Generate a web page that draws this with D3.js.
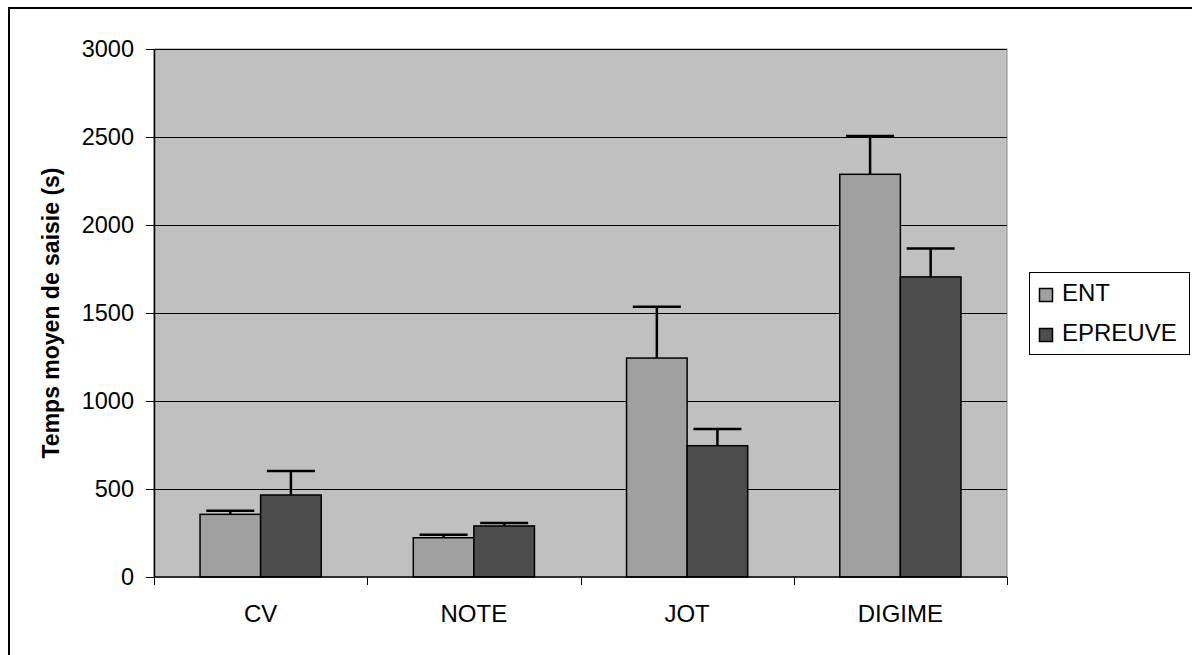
<!DOCTYPE html>
<html>
<head>
<meta charset="utf-8">
<script src="https://cdn.jsdelivr.net/npm/d3@7"></script>
<style>
  body { margin: 0; background: #fff; }
  svg { display: block; font-family: "Liberation Sans", Arial, sans-serif; }
</style>
</head>
<body>
<svg id="chart" width="1192" height="655"></svg>
<script>
// data
const categories = ['CV', 'NOTE', 'JOT', 'DIGIME']
const seriesNames = ['ENT', 'EPREUVE']
const entValues = [356, 223, 1244, 2288]
const entErrors = [21, 17, 292, 217]
const epreuveValues = [466, 290, 746, 1705]
const epreuveErrors = [136, 17, 95, 161]
const yTicks = [0, 500, 1000, 1500, 2000, 2500, 3000]

const colors = {ENT: '#a0a0a0', EPREUVE: '#4d4d4d'}

const series = [
	{name: 'ENT', values: entValues, errors: entErrors},
	{name: 'EPREUVE', values: epreuveValues, errors: epreuveErrors}
]

const svg = d3.select('#chart')
const plot = {left: 154, top: 49, right: 1007, bottom: 577}

// outer frame (only top and left edges fall inside the picture)
svg.append('rect')
	.attr('x', 9).attr('y', 8)
	.attr('width', 1300).attr('height', 800)
	.style('fill', 'none')
	.style('stroke', '#000')
	.style('stroke-width', 2)

const x = d3.scaleBand()
	.domain(categories)
	.range([plot.left, plot.right])

const inner = d3.scaleBand()
	.domain(seriesNames)
	.range([0, x.bandwidth()])
	.paddingOuter(0.76)

const y = d3.scaleLinear()
	.domain([0, 3000])
	.range([plot.bottom, plot.top])

// plot background
svg.append('rect')
	.attr('x', plot.left).attr('y', plot.top)
	.attr('width', plot.right - plot.left)
	.attr('height', plot.bottom - plot.top)
	.style('fill', '#c0c0c0')
	.style('stroke', '#8a8a8a')
	.style('stroke-width', 1)

// gridlines
svg.append('g')
	.selectAll('line')
	.data(yTicks.filter(t => t > 0))
	.enter()
	.append('line')
	.attr('x1', plot.left).attr('x2', plot.right)
	.attr('y1', d => Math.round(y(d)) + 0.5)
	.attr('y2', d => Math.round(y(d)) + 0.5)
	.style('stroke', '#000')
	.style('stroke-width', 1)

// bars
const groups = svg.append('g')
	.selectAll('g')
	.data(series)
	.enter()
	.append('g')

groups.selectAll('rect')
	.data(s => s.values.map((v, i) => ({name: s.name, cat: categories[i], v})))
	.enter()
	.append('rect')
	.attr('x', d => x(d.cat) + inner(d.name))
	.attr('y', d => y(d.v))
	.attr('width', inner.bandwidth())
	.attr('height', d => y(0) - y(d.v))
	.style('fill', d => colors[d.name])
	.style('stroke', '#000')
	.style('stroke-width', 1.5)

// error bars (upper half only)
const errs = []
series.forEach(s => s.values.forEach((v, i) => errs.push({
	name: s.name, cat: categories[i], v, e: s.errors[i]
})))
const cx = d => x(d.cat) + inner(d.name) + inner.bandwidth() / 2
const errG = svg.append('g')
errG.selectAll('.stem')
	.data(errs)
	.enter()
	.append('line')
	.attr('class', 'stem')
	.attr('x1', cx).attr('x2', cx)
	.attr('y1', d => y(d.v)).attr('y2', d => y(d.v + d.e))
	.style('stroke', '#000')
	.style('stroke-width', 2.5)
errG.selectAll('.cap')
	.data(errs)
	.enter()
	.append('line')
	.attr('class', 'cap')
	.attr('x1', d => cx(d) - 24).attr('x2', d => cx(d) + 24)
	.attr('y1', d => y(d.v + d.e)).attr('y2', d => y(d.v + d.e))
	.style('stroke', '#000')
	.style('stroke-width', 2.5)

// y axis
const yAxis = svg.append('g')
	.attr('transform', `translate(${plot.left},0)`)
	.call(d3.axisLeft(y)
		.tickValues(yTicks)
		.tickFormat(d3.format('d'))
		.tickSize(8).tickPadding(12).tickSizeOuter(0))
yAxis.attr('font-size', null).attr('font-family', null)
yAxis.select('.domain').style('stroke', '#000').style('stroke-width', 1.5)
yAxis.selectAll('text').style('font-size', '23.5px').attr('fill', '#000')

// x axis
const xTicks = categories.map(c => x(c)).concat([plot.right])
svg.append('line')
	.attr('x1', plot.left).attr('x2', plot.right)
	.attr('y1', plot.bottom).attr('y2', plot.bottom)
	.style('stroke', '#000').style('stroke-width', 1.5)
svg.append('g')
	.selectAll('line')
	.data(xTicks)
	.enter()
	.append('line')
	.attr('x1', d => Math.round(d) + 0.5).attr('x2', d => Math.round(d) + 0.5)
	.attr('y1', plot.bottom).attr('y2', plot.bottom + 8)
	.style('stroke', '#000')
svg.append('g')
	.selectAll('text')
	.data(categories)
	.enter()
	.append('text')
	.attr('x', d => x(d) + x.bandwidth() / 2)
	.attr('y', 622)
	.attr('text-anchor', 'middle')
	.style('font-size', '24px')
	.text(d => d)

// y title
svg.append('text')
	.attr('transform', `translate(59,${(plot.top + plot.bottom) / 2}) rotate(-90)`)
	.attr('text-anchor', 'middle')
	.style('font-size', '23px')
	.style('font-weight', 'bold')
	.text('Temps moyen de saisie (s)')

// legend
const legend = svg.append('g')
legend.append('rect')
	.attr('x', 1029.5).attr('y', 272.5)
	.attr('width', 160).attr('height', 82)
	.style('fill', '#fff')
	.style('stroke', '#000')
	.style('stroke-width', 1)
const items = legend.selectAll('g')
	.data(seriesNames)
	.enter()
	.append('g')
	.attr('transform', (d, i) => `translate(0,${295 + i * 40})`)
items.append('rect')
	.attr('x', 1039.5).attr('y', -6.5)
	.attr('width', 13).attr('height', 13)
	.style('fill', d => colors[d])
	.style('stroke', '#000')
	.style('stroke-width', 1.5)
items.append('text')
	.attr('x', 1062).attr('y', 6)
	.style('font-size', '24px')
	.text(d => d)
</script>
</body>
</html>
